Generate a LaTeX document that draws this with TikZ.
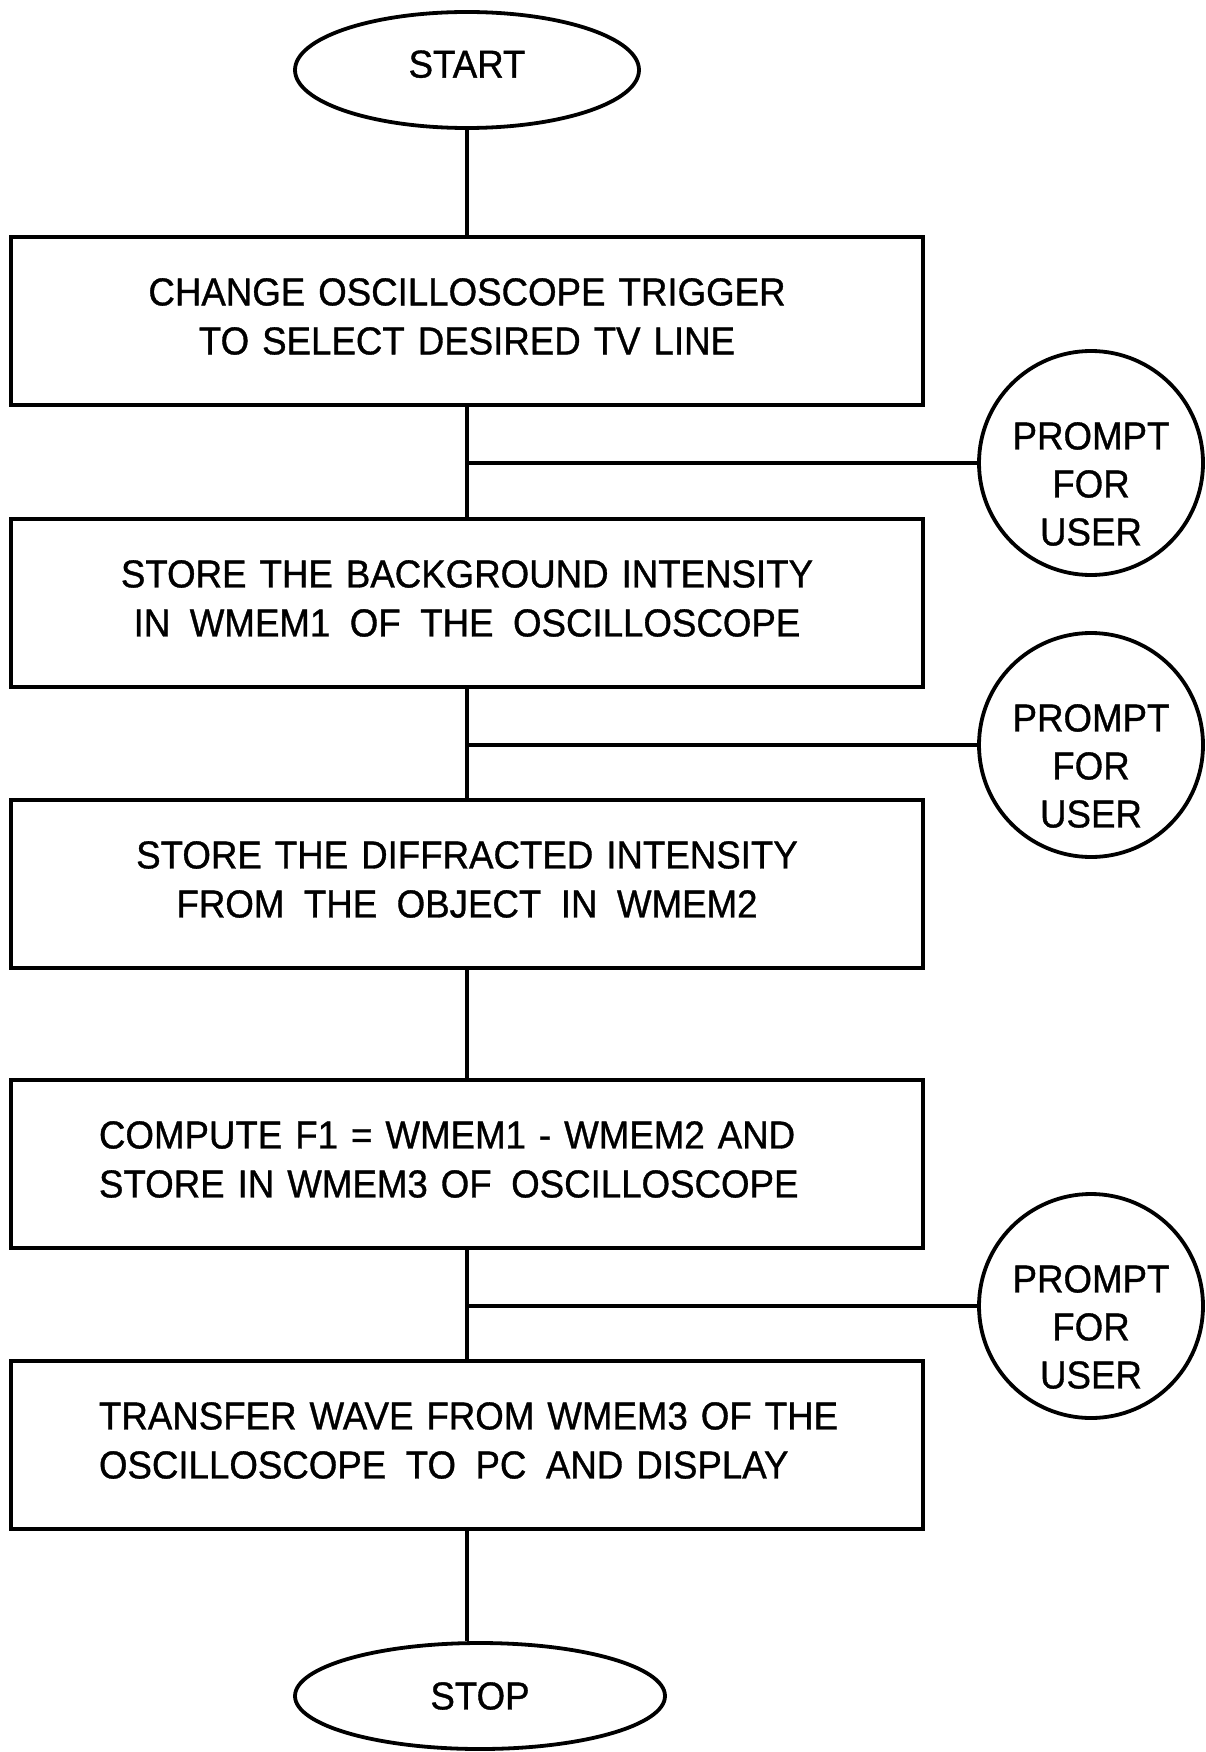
\documentclass[tikz,border=0pt]{standalone}
\usepackage{fontspec}
\setmainfont{Liberation Sans}[FakeStretch=0.94, FakeBold=0.9]
\usetikzlibrary{shapes.geometric}
\newcommand{\wgap}{\hspace{0.5em}}
% indent for the flush-left step texts
\newcommand{\lead}{\hspace*{12pt}}
% tight word spacing, as in the typed labels
\newcommand{\labelfont}[2]{\fontsize{#1}{#2}\selectfont\spaceskip=0.2em plus 0.05em\relax}
% a little room under the last line lifts the text inside each box
\newcommand{\boxtail}{\par\vspace*{9pt}}
\begin{document}
\begin{tikzpicture}[x=1pt,y=-1pt,
  flow/.style={line width=3.8pt},
  terminal/.style={draw, ellipse, line width=3.8pt, inner sep=0pt,
    font=\labelfont{39}{47}},
  stepbox/.style={draw, rectangle, line width=4pt, text width=760pt,
    inner xsep=76pt, minimum height=168pt, font=\labelfont{39}{49},
    execute at end node=\boxtail},
  centered/.style={align=center},
  leftset/.style={align=left},
  prompt/.style={draw, circle, line width=3.8pt, minimum size=224pt, inner sep=0pt},
  prompttext/.style={align=center, font=\labelfont{39}{48}, yshift=-21pt}]
\useasboundingbox (0,0) rectangle (1205,1752);

% terminals
\node[terminal, minimum width=344pt, minimum height=116pt, text depth=12pt] (start) at (467,70) {START};
\node[terminal, minimum width=370pt, minimum height=106pt] (stop) at (480,1696) {STOP};

% process steps
\node[stepbox, centered] (b1) at (467,321)
  {CHANGE OSCILLOSCOPE TRIGGER\\TO SELECT DESIRED TV LINE};
\node[stepbox, centered] (b2) at (467,603)
  {STORE THE BACKGROUND INTENSITY\\IN\wgap WMEM1\wgap OF\wgap THE\wgap OSCILLOSCOPE};
\node[stepbox, centered] (b3) at (467,884)
  {STORE THE DIFFRACTED INTENSITY\\FROM\wgap THE\wgap OBJECT\wgap IN\wgap WMEM2};
\node[stepbox, leftset] (b4) at (467,1164)
  {\lead COMPUTE F1 = WMEM1 - WMEM2 AND\\\lead STORE IN WMEM3 OF\wgap OSCILLOSCOPE};
\node[stepbox, leftset] (b5) at (467,1445)
  {\lead TRANSFER WAVE FROM WMEM3 OF THE\\\lead OSCILLOSCOPE\wgap TO\wgap PC\wgap AND DISPLAY};

% user prompts
\node[prompt, label={[prompttext]center:{PROMPT\\FOR\\USER}}] (p1) at (1091,463) {};
\node[prompt, label={[prompttext]center:{PROMPT\\FOR\\USER}}] (p2) at (1091,745) {};
\node[prompt, label={[prompttext]center:{PROMPT\\FOR\\USER}}] (p3) at (1091,1306) {};

% junctions on the main flow
\coordinate (j1) at (b1.south |- p1.west);
\coordinate (j2) at (b2.south |- p2.west);
\coordinate (j3) at (b4.south |- p3.west);

% main flow
\draw[flow] (start.south) -- (b1.north);
\draw[flow] (b1.south) -- (b2.north);
\draw[flow] (b2.south) -- (b3.north);
\draw[flow] (b3.south) -- (b4.north);
\draw[flow] (b4.south) -- (b5.north);
\draw[flow] (b5.south) -- (b5.south |- stop.north);

% branches to the prompts
\draw[flow] (j1) -- (p1.west);
\draw[flow] (j2) -- (p2.west);
\draw[flow] (j3) -- (p3.west);
\end{tikzpicture}
\end{document}
